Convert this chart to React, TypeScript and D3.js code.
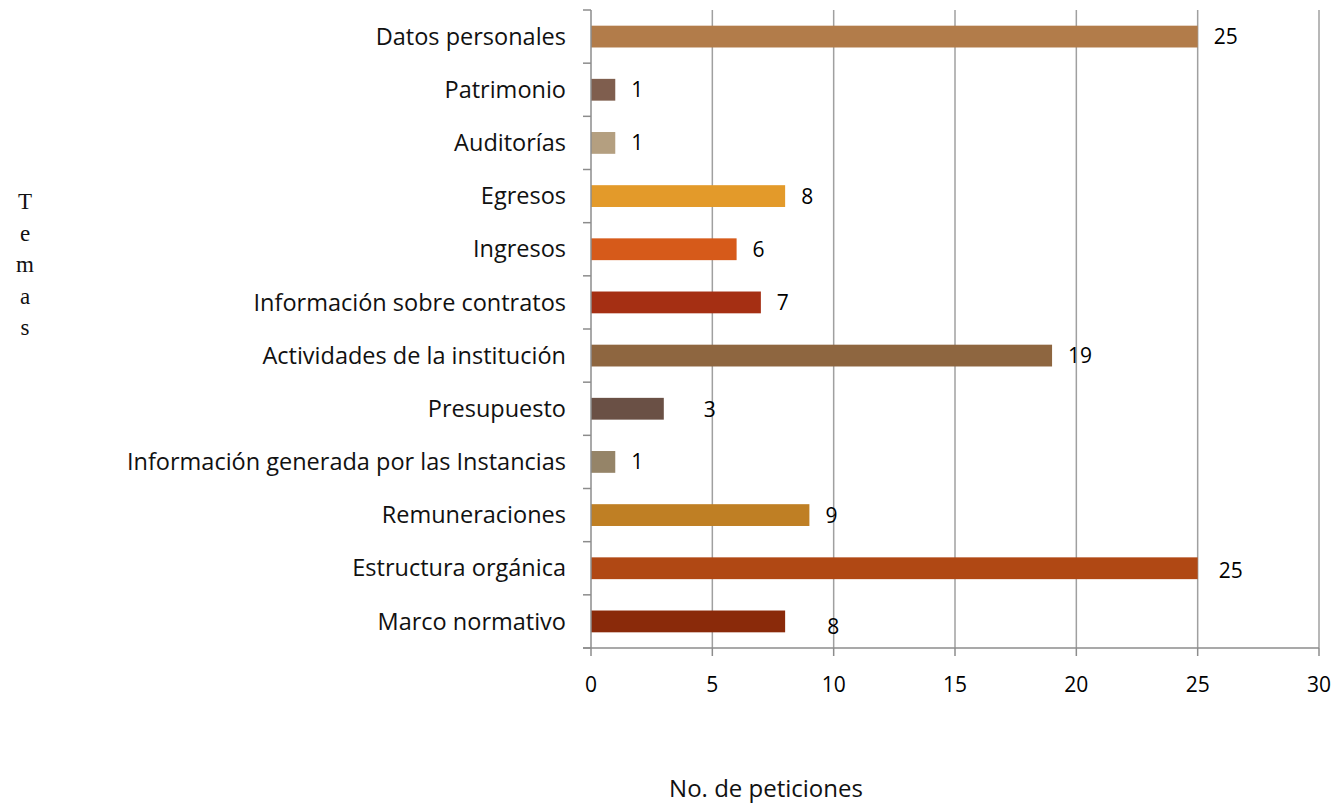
import React, { useEffect, useRef } from "react";
import * as d3 from "d3";

// categories top to bottom
const temas = [
  "Datos personales",
  "Patrimonio",
  "Auditorías",
  "Egresos",
  "Ingresos",
  "Información sobre contratos",
  "Actividades de la institución",
  "Presupuesto",
  "Información generada por las Instancias",
  "Remuneraciones",
  "Estructura orgánica",
  "Marco normativo",
];
const peticiones = [25, 1, 1, 8, 6, 7, 19, 3, 1, 9, 25, 8];
const colores = [
  "#b27c4a",
  "#7f5e4e",
  "#b49f80",
  "#e39a2a",
  "#d65a1a",
  "#a52f13",
  "#8e6640",
  "#6a5045",
  "#958468",
  "#bf7f24",
  "#b04814",
  "#8a2a0a",
];
const xTicks = [0, 5, 10, 15, 20, 25, 30];

const width = 1336;
const height = 805;
const margin = { top: 10, right: 17, bottom: 157, left: 591 };
const grid = "#a0a0a0";
const labelFont = "'Open Sans', sans-serif";

// data labels that were dragged by hand in the original
const labelNudge: Record<string, [number, number]> = {
  Presupuesto: [24, 1],
  "Marco normativo": [26, 5],
  "Estructura orgánica": [5, 2],
};

const App = () => {
  const ref = useRef<SVGSVGElement>(null);

  useEffect(() => {
    document.body.style.margin = "0";
    const svg = d3.select(ref.current);
    svg.selectAll("*").remove();

    const x = d3
      .scaleLinear()
      .domain([0, 30])
      .range([margin.left, width - margin.right]);
    const y = d3
      .scaleBand()
      .domain(temas)
      .range([margin.top, height - margin.bottom])
      .paddingInner(0.59)
      .paddingOuter(0.295);

    const plotTop = margin.top;
    const plotBottom = height - margin.bottom;
    const step = y.step();

    // vertical gridlines
    svg
      .append("g")
      .selectAll("line")
      .data(xTicks.slice(1))
      .enter()
      .append("line")
      .attr("x1", (d) => x(d))
      .attr("x2", (d) => x(d))
      .attr("y1", plotTop)
      .attr("y2", plotBottom)
      .attr("stroke", grid)
      .attr("stroke-width", 1.5);

    // bars
    const data = temas.map((t, i) => ({ t, v: peticiones[i], c: colores[i] }));
    svg
      .append("g")
      .selectAll("rect")
      .data(data)
      .enter()
      .append("rect")
      .attr("x", x(0))
      .attr("y", (d) => y(d.t)!)
      .attr("width", (d) => x(d.v) - x(0))
      .attr("height", y.bandwidth())
      .attr("fill", (d) => d.c);

    // axes
    const ax = svg.append("g").attr("stroke", "#8c8c8c").attr("stroke-width", 1.5);
    ax.append("line")
      .attr("x1", x(0))
      .attr("x2", x(0))
      .attr("y1", plotTop)
      .attr("y2", plotBottom);
    ax.append("line")
      .attr("x1", x(0) - 8)
      .attr("x2", x(30))
      .attr("y1", plotBottom)
      .attr("y2", plotBottom);
    ax.selectAll("line.ytick")
      .data(d3.range(temas.length + 1))
      .enter()
      .append("line")
      .attr("class", "ytick")
      .attr("x1", x(0) - 8)
      .attr("x2", x(0))
      .attr("y1", (i) => plotTop + i * step)
      .attr("y2", (i) => plotTop + i * step);
    ax.selectAll("line.xtick")
      .data(xTicks)
      .enter()
      .append("line")
      .attr("class", "xtick")
      .attr("x1", (d) => x(d))
      .attr("x2", (d) => x(d))
      .attr("y1", plotBottom)
      .attr("y2", plotBottom + 8);

    // x tick labels
    svg
      .append("g")
      .selectAll("text")
      .data(xTicks)
      .enter()
      .append("text")
      .attr("x", (d) => x(d))
      .attr("y", plotBottom + 44)
      .attr("text-anchor", "middle")
      .style("font-family", "'Open Sans', sans-serif")
      .style("font-size", "21px")
      .attr("fill", "#000")
      .text((d) => d);

    // category labels
    svg
      .append("g")
      .selectAll("text")
      .data(temas)
      .enter()
      .append("text")
      .attr("x", x(0) - 25)
      .attr("y", (d) => y(d)! + y.bandwidth() / 2)
      .attr("dy", "0.35em")
      .attr("text-anchor", "end")
      .style("font-family", labelFont)
      .style("font-size", "23.5px")
      .attr("fill", "#111")
      .text((d) => d);

    // value labels
    svg
      .append("g")
      .selectAll("text")
      .data(data)
      .enter()
      .append("text")
      .attr("x", (d) => x(d.v) + 16 + (labelNudge[d.t]?.[0] ?? 0))
      .attr("y", (d) => y(d.t)! + y.bandwidth() / 2 + (labelNudge[d.t]?.[1] ?? 0))
      .attr("dy", "0.36em")
      .style("font-family", "'Open Sans', sans-serif")
      .style("font-size", "21px")
      .attr("fill", "#000")
      .text((d) => d.v);

    // axis titles
    svg
      .append("text")
      .attr("x", 766)
      .attr("y", 797)
      .attr("text-anchor", "middle")
      .style("font-family", labelFont)
      .style("font-size", "24px")
      .attr("fill", "#111")
      .text("No. de peticiones");

    svg
      .append("g")
      .selectAll("text")
      .data("Temas".split(""))
      .enter()
      .append("text")
      .attr("x", 25)
      .attr("y", (_, i) => 209 + i * 31.5)
      .attr("text-anchor", "middle")
      .style("font-family", "'Liberation Serif', serif")
      .style("font-size", "23px")
      .attr("fill", "#111")
      .text((d) => d);
  }, []);

  return <svg ref={ref} width={width} height={height} style={{ display: "block" }} />;
};

export default App;
